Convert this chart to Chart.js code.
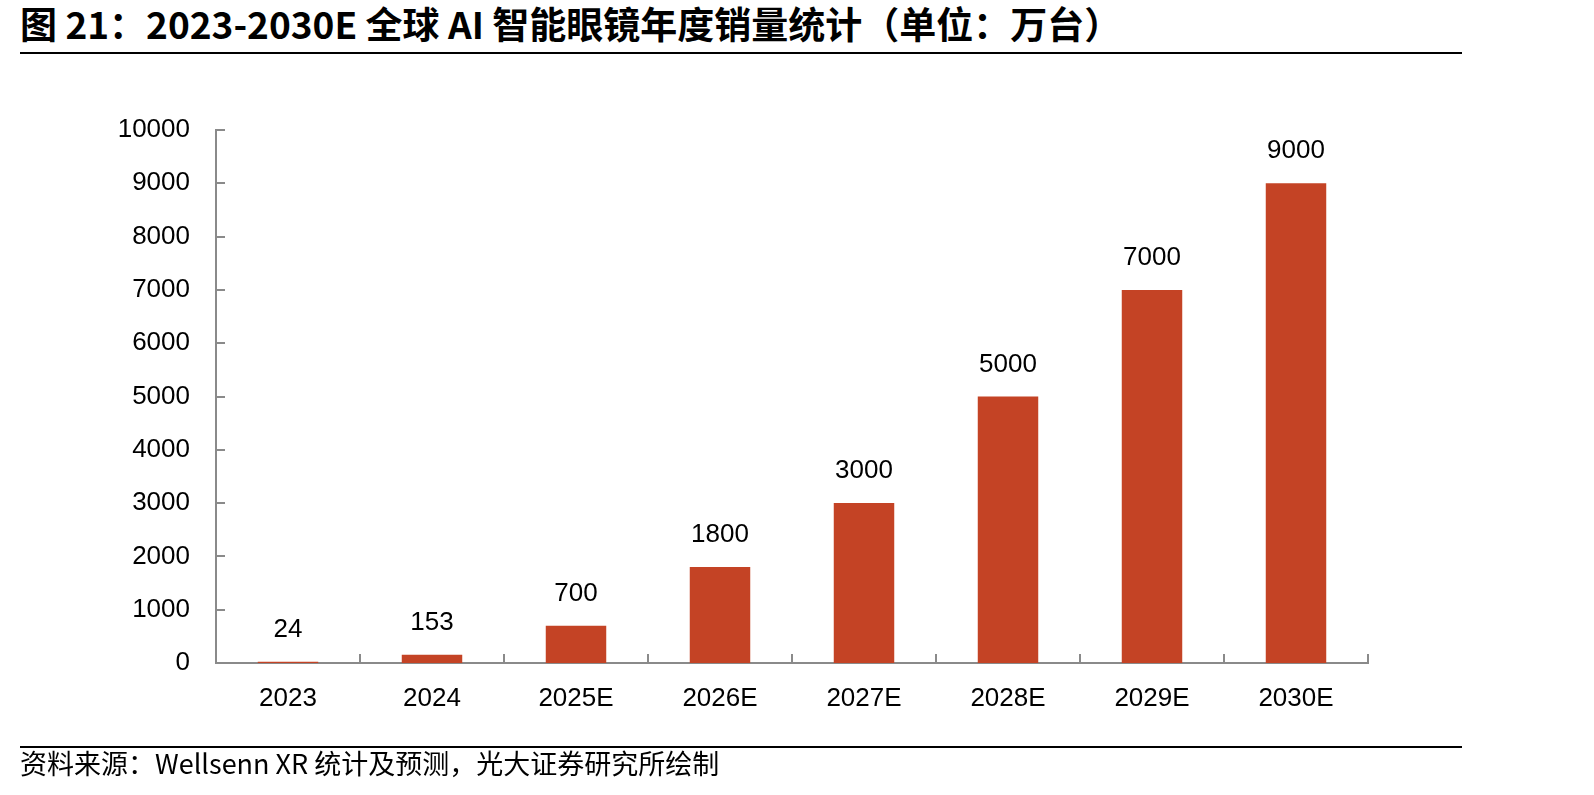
<!DOCTYPE html>
<html>
<head>
<meta charset="utf-8">
<script src="https://cdn.jsdelivr.net/npm/chart.js@4"></script>
<style>
  body { margin: 0; background: #fff; }
  #page { position: relative; width: 1594px; height: 795px; overflow: hidden; }
  #title { position: absolute; left: 20px; top: -4px; font-family: "Noto Sans CJK SC"; font-weight: bold; font-size: 37px; color: #000; white-space: nowrap; }
  .rule { position: absolute; left: 20px; width: 1442px; height: 2px; background: #000; }
  #source { position: absolute; left: 20px; top: 743px; font-family: "Noto Sans CJK SC"; font-size: 27px; color: #000; white-space: nowrap; }
  #wrap { position: absolute; left: 0; top: 0; width: 1594px; height: 795px; }
</style>
</head>
<body>
<div id="page">
  <div id="title">图 21：2023-2030E 全球 AI 智能眼镜年度销量统计（单位：万台）</div>
  <div class="rule" style="top:52px"></div>
  <div id="wrap"><canvas id="salesChart"></canvas></div>
  <div class="rule" style="top:746px"></div>
  <div id="source">资料来源：Wellsenn XR 统计及预测，光大证券研究所绘制</div>
</div>
<script>
// datos del gráfico
const years = ['2023', '2024', '2025E', '2026E', '2027E', '2028E', '2029E', '2030E'];
const sales = [24, 153, 700, 1800, 3000, 5000, 7000, 9000];
const yMin = 0;
const yMax = 10000;
const yStep = 1000;

const axisColor = '#8a8a8a';
const barColor = '#c44325';
const textColor = '#000';
const fontFamily = '"Liberation Sans", Arial, sans-serif';

// marcas de eje hacia dentro + etiquetas de valor
const extrasPlugin = {
    id: 'extras',
    afterDraw(chart) {
        const { ctx, scales: { x, y } } = chart;
        ctx.save();
        ctx.strokeStyle = axisColor;
        ctx.lineWidth = 2;
        ctx.beginPath();
        y.ticks.forEach(t => {
            const py = Math.round(y.getPixelForValue(t.value));
            ctx.moveTo(x.left, py);
            ctx.lineTo(x.left + 9, py);
        });
        const step = x.getPixelForValue(1) - x.getPixelForValue(0);
        for (let i = 0; i < years.length; i++) {
            const px = Math.round(x.getPixelForValue(i) + step / 2);
            ctx.moveTo(px, y.bottom);
            ctx.lineTo(px, y.bottom - 9);
        }
        ctx.stroke();

        ctx.fillStyle = textColor;
        ctx.font = '26px ' + fontFamily;
        ctx.textAlign = 'center';
        ctx.textBaseline = 'middle';
        chart.getDatasetMeta(0).data.forEach((bar, i) => {
            ctx.fillText(String(sales[i]), bar.x, bar.y - 32);
        });
        ctx.restore();
    }
};

const ctx = document.getElementById('salesChart').getContext('2d');
new Chart(ctx, {
    type: 'bar',
    data: {
        labels: years,
        datasets: [{
            data: sales,
            backgroundColor: barColor,
            borderWidth: 0,
            categoryPercentage: 1,
            barPercentage: 0.42
        }]
    },
    options: {
        responsive: true,
        maintainAspectRatio: false,
        animation: false,
        layout: { padding: { left: 0, top: 130, right: 226, bottom: 0 } },
        plugins: {
            legend: { display: false },
            tooltip: { enabled: false }
        },
        scales: {
            x: {
                offset: true,
                grid: { display: false, drawTicks: false },
                border: { color: axisColor, width: 2 },
                ticks: {
                    color: textColor,
                    font: { family: fontFamily, size: 26 },
                    padding: 20,
                    maxRotation: 0
                },
                afterFit: s => { s.height = 132; }
            },
            y: {
                min: yMin,
                max: yMax,
                grid: { display: false, drawTicks: false },
                border: { color: axisColor, width: 2 },
                ticks: {
                    stepSize: yStep,
                    color: textColor,
                    font: { family: fontFamily, size: 26 },
                    padding: 26,
                    callback: v => String(v)
                },
                afterFit: s => { s.width = 216; }
            }
        }
    },
    plugins: [extrasPlugin]
});
</script>
</body>
</html>
